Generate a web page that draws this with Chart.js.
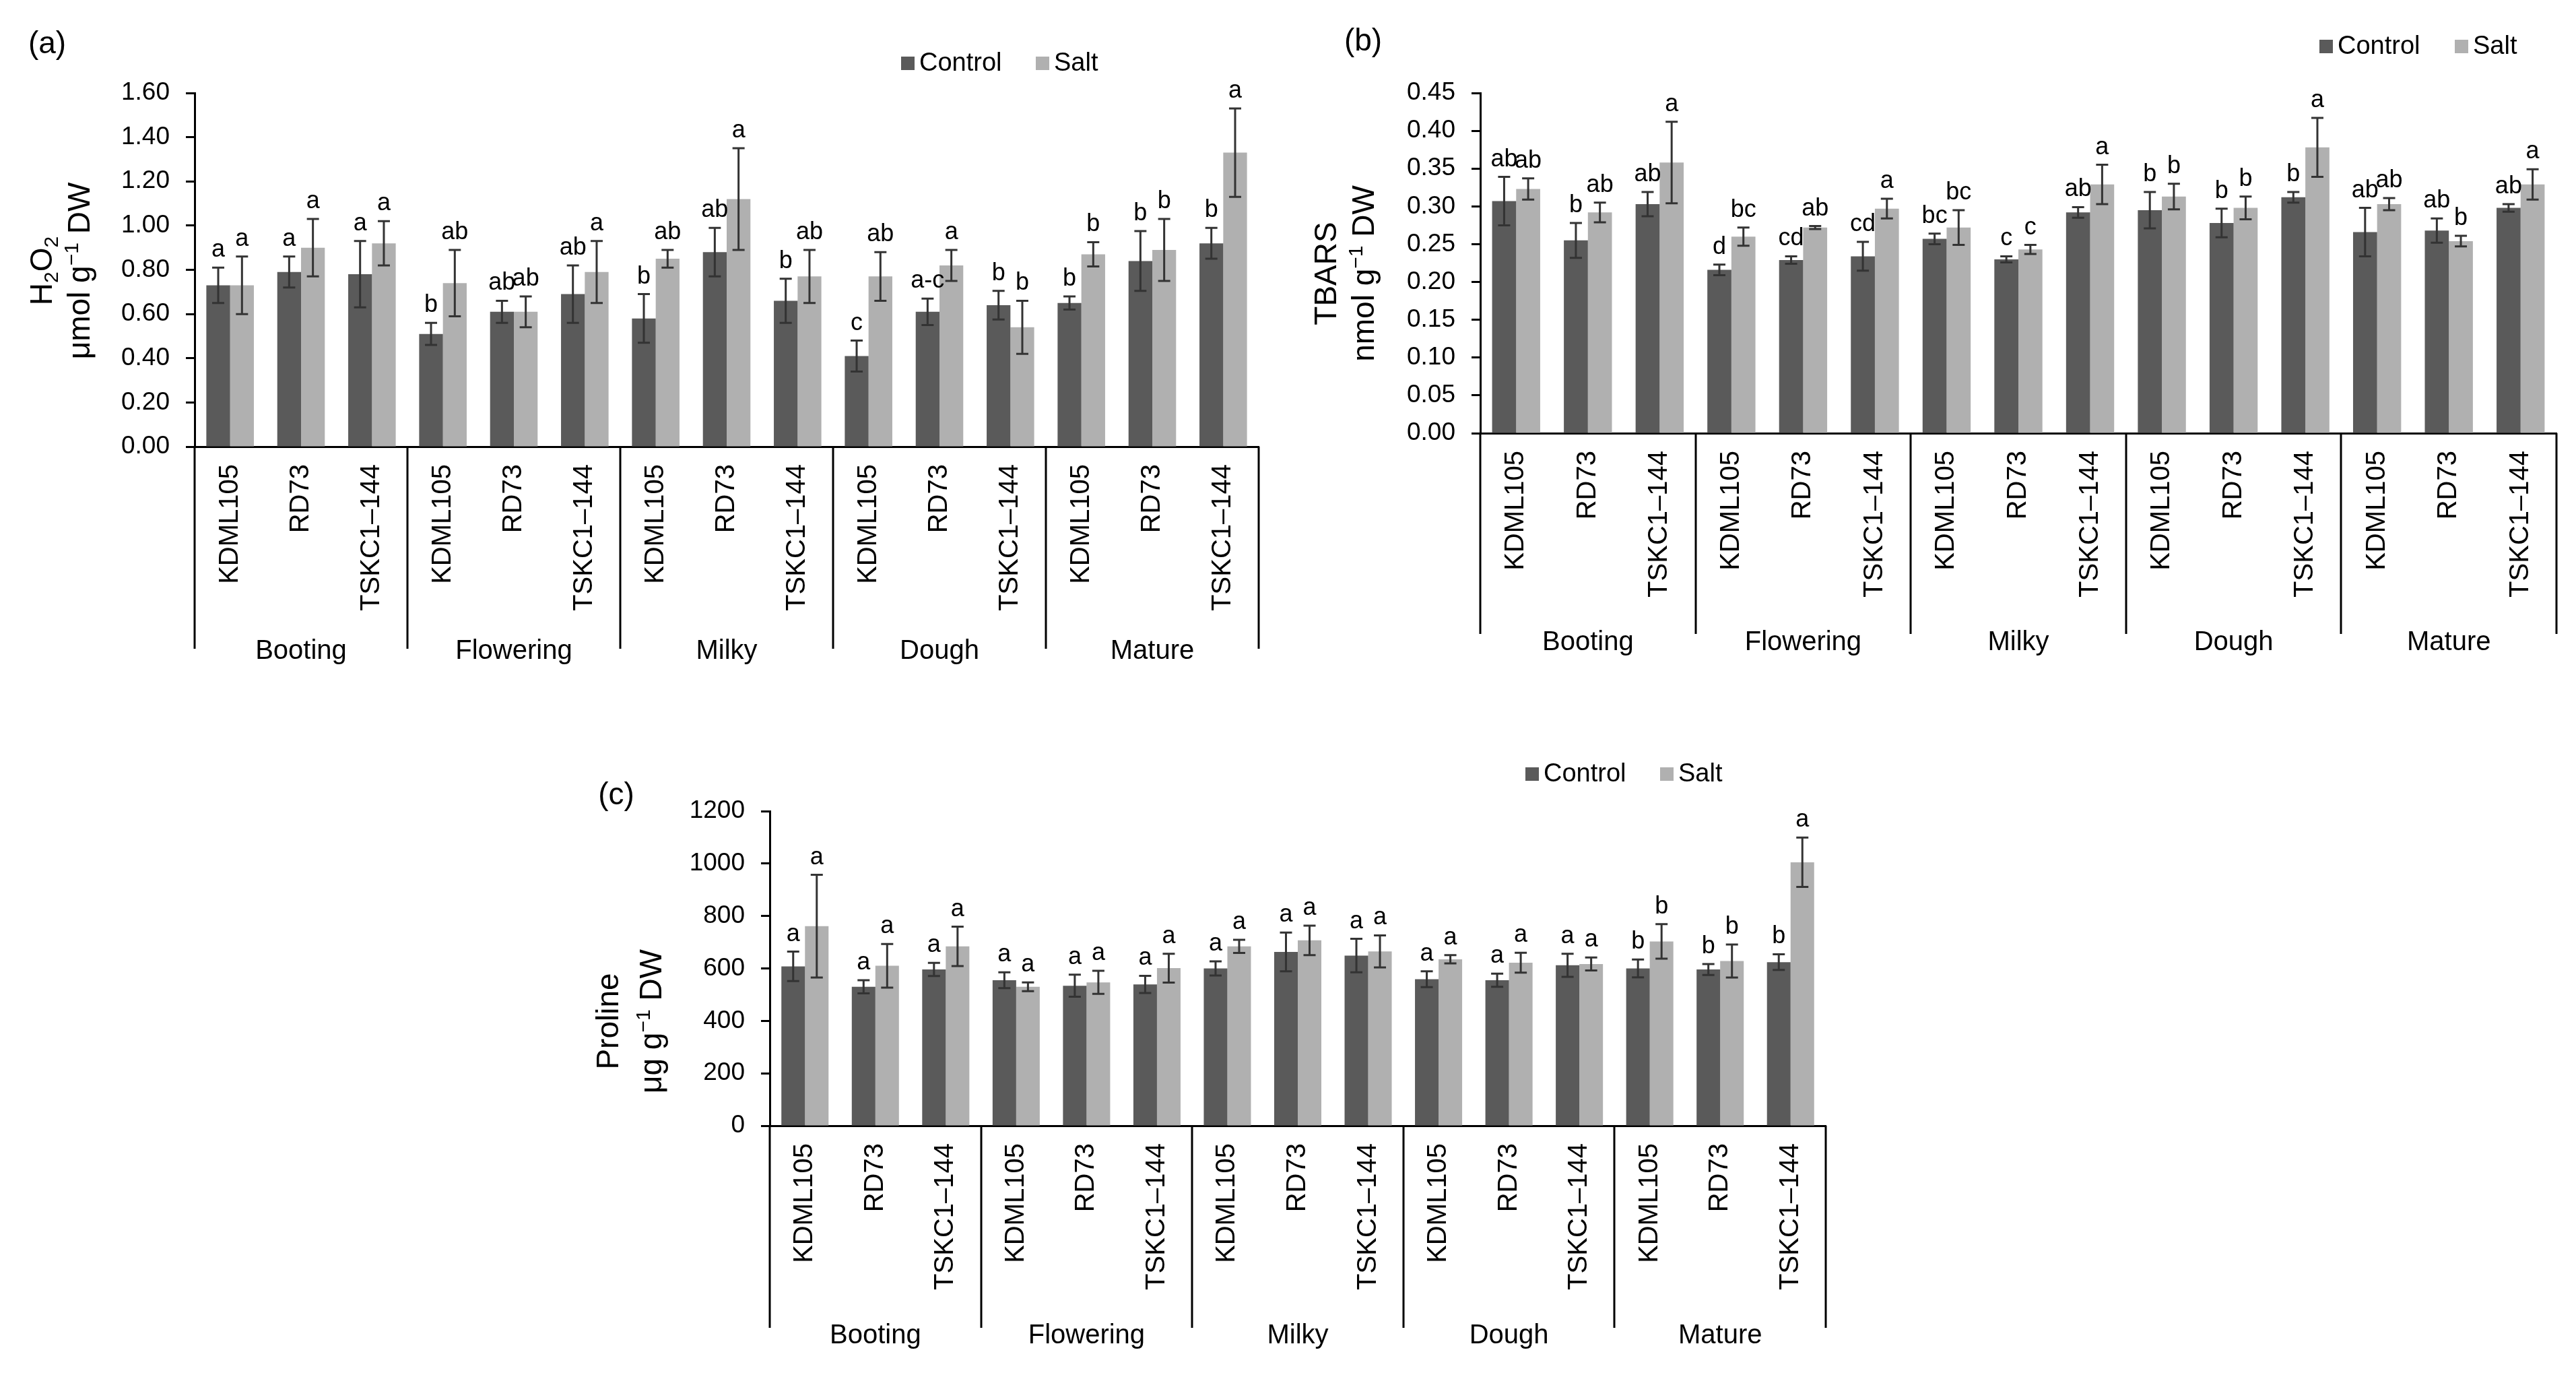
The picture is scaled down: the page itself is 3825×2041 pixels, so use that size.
<!DOCTYPE html>
<html>
<head>
<meta charset="utf-8">
<title>H2O2, TBARS and proline</title>
<script src="https://cdn.jsdelivr.net/npm/chart.js@4.4.1/dist/chart.umd.min.js"></script>
<style>
    html, body { margin: 0; padding: 0; background: #fff; }
    body { width: 3825px; height: 2041px; position: relative; overflow: hidden; }
    canvas { position: absolute; }
</style>
</head>
<body>
<canvas id="chartA" width="1920" height="1030" style="left:0px;top:0px"></canvas>
<canvas id="chartB" width="1915" height="1030" style="left:1910px;top:0px"></canvas>
<canvas id="chartC" width="1900" height="951" style="left:850px;top:1090px"></canvas>
<script>
// ---------- data ----------
const stages = ['Booting', 'Flowering', 'Milky', 'Dough', 'Mature'];
const cultivars = ['KDML105', 'RD73', 'TSKC1\u2013144'];
const categories = stages.flatMap(() => cultivars);

// (a) H2O2, umol g-1 DW
const h2o2Control    = [0.73, 0.79, 0.78, 0.51, 0.61, 0.69, 0.58, 0.88, 0.66, 0.41, 0.61, 0.64, 0.65, 0.84, 0.92];
const h2o2ControlErr = [0.08, 0.07, 0.15, 0.05, 0.05, 0.13, 0.11, 0.11, 0.10, 0.07, 0.06, 0.065, 0.03, 0.135, 0.07];
const h2o2Salt       = [0.73, 0.90, 0.92, 0.74, 0.61, 0.79, 0.85, 1.12, 0.77, 0.77, 0.82, 0.54, 0.87, 0.89, 1.33];
const h2o2SaltErr    = [0.13, 0.13, 0.10, 0.15, 0.07, 0.14, 0.04, 0.23, 0.12, 0.11, 0.07, 0.12, 0.055, 0.14, 0.20];
const h2o2ControlLetters = ['a', 'a', 'a', 'b', 'ab', 'ab', 'b', 'ab', 'b', 'c', 'a-c', 'b', 'b', 'b', 'b'];
const h2o2SaltLetters    = ['a', 'a', 'a', 'ab', 'ab', 'a', 'ab', 'a', 'ab', 'ab', 'a', 'b', 'b', 'b', 'a'];
const h2o2Ticks = [0, 0.2, 0.4, 0.6, 0.8, 1.0, 1.2, 1.4, 1.6];

// (b) TBARS, nmol g-1 DW
const tbarsControl    = [0.307, 0.255, 0.303, 0.216, 0.229, 0.234, 0.257, 0.230, 0.292, 0.295, 0.278, 0.312, 0.266, 0.268, 0.298];
const tbarsControlErr = [0.032, 0.023, 0.016, 0.007, 0.005, 0.019, 0.007, 0.004, 0.007, 0.024, 0.019, 0.007, 0.032, 0.016, 0.005];
const tbarsSalt       = [0.323, 0.292, 0.358, 0.260, 0.272, 0.297, 0.272, 0.243, 0.329, 0.313, 0.298, 0.378, 0.303, 0.254, 0.329];
const tbarsSaltErr    = [0.014, 0.013, 0.054, 0.012, 0.002, 0.013, 0.023, 0.006, 0.026, 0.017, 0.015, 0.039, 0.008, 0.007, 0.020];
const tbarsControlLetters = ['ab', 'b', 'ab', 'd', 'cd', 'cd', 'bc', 'c', 'ab', 'b', 'b', 'b', 'ab', 'ab', 'ab'];
const tbarsSaltLetters    = ['ab', 'ab', 'a', 'bc', 'ab', 'a', 'bc', 'c', 'a', 'b', 'b', 'a', 'ab', 'b', 'a'];
const tbarsTicks = [0, 0.05, 0.10, 0.15, 0.20, 0.25, 0.30, 0.35, 0.40, 0.45];

// (c) Proline, ug g-1 DW
const prolineControl    = [608, 530, 596, 555, 534, 539, 600, 663, 649, 559, 555, 612, 600, 596, 624];
const prolineControlErr = [56, 25, 25, 30, 42, 33, 27, 74, 64, 30, 25, 44, 34, 21, 30];
const prolineSalt       = [761, 610, 684, 530, 547, 601, 684, 707, 665, 635, 622, 617, 703, 628, 1005];
const prolineSaltErr    = [196, 83, 75, 17, 44, 55, 25, 56, 61, 16, 38, 25, 66, 63, 94];
const prolineControlLetters = ['a', 'a', 'a', 'a', 'a', 'a', 'a', 'a', 'a', 'a', 'a', 'a', 'b', 'b', 'b'];
const prolineSaltLetters    = ['a', 'a', 'a', 'a', 'a', 'a', 'a', 'a', 'a', 'a', 'a', 'a', 'b', 'b', 'a'];
const prolineTicks = [0, 200, 400, 600, 800, 1000, 1200];

// ---------- styles ----------
const FONT = "'Liberation Sans', Arial, 'DejaVu Sans', sans-serif";
const CONTROL_COLOR = '#5a5a5a';
const SALT_COLOR = '#b0b0b0';
const INK = '#000';

// Draws text with sub/superscript parts, centred on (cx, cy)
function drawRich(ctx, parts, cx, cy, size) {
    const fontFor = m => (m ? Math.round(size * 0.65) : size) + 'px ' + FONT;
    let total = 0;
    parts.forEach(([t, m]) => { ctx.font = fontFor(m); total += ctx.measureText(t).width; });
    let x = cx - total / 2;
    ctx.textAlign = 'left';
    ctx.textBaseline = 'alphabetic';
    parts.forEach(([t, m]) => {
        ctx.font = fontFor(m);
        const dy = m === 1 ? size * 0.2 : (m === 2 ? -size * 0.36 : 0);
        ctx.fillText(t, x, cy + size * 0.36 + dy);
        x += ctx.measureText(t).width;
    });
}

// Error bars, letters, group boxes, stage names, legend, titles
const annotatePlugin = {
    id: 'annotate',
    afterDraw(chart) {
        const o = chart.config.options.plugins.annotate;
        const { ctx, chartArea } = chart;
        const x = chart.scales.x, y = chart.scales.y;
        ctx.save();

        // error bars + letters
        chart.data.datasets.forEach((ds, di) => {
            const meta = chart.getDatasetMeta(di);
            meta.data.forEach((bar, i) => {
                const v = ds.data[i], e = ds.errors[i];
                const yt = y.getPixelForValue(v + e);
                const yb = y.getPixelForValue(v - e);
                ctx.strokeStyle = '#333';
                ctx.lineWidth = 3;
                ctx.beginPath();
                ctx.moveTo(bar.x, yt); ctx.lineTo(bar.x, yb);
                ctx.moveTo(bar.x - 9, yt); ctx.lineTo(bar.x + 9, yt);
                ctx.moveTo(bar.x - 9, yb); ctx.lineTo(bar.x + 9, yb);
                ctx.stroke();
                ctx.fillStyle = INK;
                ctx.font = '36px ' + FONT;
                ctx.textAlign = 'center';
                ctx.textBaseline = 'alphabetic';
                ctx.fillText(ds.letters[i], bar.x, yt - 16);
            });
        });

        // group separators and stage names
        const step = x.getPixelForValue(1) - x.getPixelForValue(0);
        ctx.strokeStyle = INK;
        ctx.lineWidth = 3;
        for (let g = 0; g <= stages.length; g++) {
            const px = Math.round(x.getPixelForValue(g * cultivars.length) - step / 2);
            ctx.beginPath();
            ctx.moveTo(px, chartArea.bottom);
            ctx.lineTo(px, chartArea.bottom + o.sepLength);
            ctx.stroke();
        }
        ctx.fillStyle = INK;
        ctx.font = '40px ' + FONT;
        ctx.textAlign = 'center';
        ctx.textBaseline = 'middle';
        stages.forEach((s, g) => {
            const c = x.getPixelForValue(g * cultivars.length + 1);
            ctx.fillText(s, c, chartArea.bottom + o.stageOffset);
        });

        // panel label
        ctx.font = '46px ' + FONT;
        ctx.fillText(o.panel, o.panelX, o.panelY);

        // legend
        ctx.font = '38px ' + FONT;
        ctx.textAlign = 'left';
        chart.data.datasets.forEach((ds, di) => {
            const lx = o.legendX[di];
            ctx.fillStyle = ds.backgroundColor;
            ctx.fillRect(lx, o.legendY - 10, 20, 20);
            ctx.fillStyle = INK;
            ctx.fillText(ds.label, lx + 27, o.legendY + 1);
        });

        // y title, two lines
        ctx.fillStyle = INK;
        o.title.forEach((parts, li) => {
            ctx.save();
            ctx.translate(o.titleX[li], o.titleY);
            ctx.rotate(-Math.PI / 2);
            drawRich(ctx, parts, 0, 0, 46);
            ctx.restore();
        });
        ctx.restore();
    }
};

function makeChart(id, cfg) {
    const canvas = document.getElementById(id);
    const W = canvas.width, H = canvas.height;
    const xHeight = 320;
    return new Chart(canvas.getContext('2d'), {
        type: 'bar',
        data: {
            labels: categories,
            datasets: [
                { label: 'Control', data: cfg.control, errors: cfg.controlErr, letters: cfg.controlLetters,
                  backgroundColor: CONTROL_COLOR, borderWidth: 0 },
                { label: 'Salt', data: cfg.salt, errors: cfg.saltErr, letters: cfg.saltLetters,
                  backgroundColor: SALT_COLOR, borderWidth: 0 }
            ]
        },
        options: {
            responsive: false,
            devicePixelRatio: 1,
            animation: false,
            layout: {
                padding: { left: 0, top: cfg.area.top, right: W - cfg.area.right, bottom: H - cfg.area.bottom - xHeight }
            },
            datasets: { bar: { categoryPercentage: 0.67, barPercentage: 1.0 } },
            scales: {
                x: {
                    grid: { display: false, drawTicks: false },
                    border: { display: true, color: INK, width: 3 },
                    ticks: {
                        autoSkip: false, minRotation: 90, maxRotation: 90, padding: 26,
                        color: INK, font: { family: FONT, size: 40 }
                    },
                    afterFit(scale) { scale.height = xHeight; }
                },
                y: {
                    min: cfg.ticks[0],
                    max: cfg.ticks[cfg.ticks.length - 1],
                    afterBuildTicks(scale) { scale.ticks = cfg.ticks.map(v => ({ value: v })); },
                    grid: { drawOnChartArea: false, drawTicks: true, tickLength: 13, tickWidth: 3, tickColor: INK },
                    border: { display: true, color: INK, width: 3 },
                    ticks: {
                        padding: 24, color: INK, font: { family: FONT, size: 37 },
                        callback: v => v.toFixed(cfg.decimals)
                    },
                    afterFit(scale) { scale.width = cfg.area.left; }
                }
            },
            plugins: {
                legend: { display: false },
                tooltip: { enabled: false },
                annotate: cfg.annot
            }
        },
        plugins: [annotatePlugin]
    });
}

makeChart('chartA', {
    control: h2o2Control, controlErr: h2o2ControlErr, controlLetters: h2o2ControlLetters,
    salt: h2o2Salt, saltErr: h2o2SaltErr, saltLetters: h2o2SaltLetters,
    ticks: h2o2Ticks, decimals: 2,
    area: { left: 289, top: 138, right: 1869, bottom: 663 },
    annot: {
        panel: '(a)', panelX: 70, panelY: 66,
        legendX: [1338, 1538], legendY: 94,
        title: [[['H', 0], ['2', 1], ['O', 0], ['2', 1]], [['\u03bcmol g', 0], ['\u22121', 2], [' DW', 0]]],
        titleX: [60, 116], titleY: 402,
        sepLength: 300, stageOffset: 304
    }
});

makeChart('chartB', {
    control: tbarsControl, controlErr: tbarsControlErr, controlLetters: tbarsControlLetters,
    salt: tbarsSalt, saltErr: tbarsSaltErr, saltLetters: tbarsSaltLetters,
    ticks: tbarsTicks, decimals: 2,
    area: { left: 288, top: 138, right: 1886, bottom: 643 },
    annot: {
        panel: '(b)', panelX: 114, panelY: 62,
        legendX: [1534, 1735], legendY: 69,
        title: [[['TBARS', 0]], [['nmol g', 0], ['\u22121', 2], [' DW', 0]]],
        titleX: [57, 113], titleY: 406,
        sepLength: 298, stageOffset: 311
    }
});

makeChart('chartC', {
    control: prolineControl, controlErr: prolineControlErr, controlLetters: prolineControlLetters,
    salt: prolineSalt, saltErr: prolineSaltErr, saltLetters: prolineSaltLetters,
    ticks: prolineTicks, decimals: 0,
    area: { left: 293, top: 114, right: 1861, bottom: 581 },
    annot: {
        panel: '(c)', panelX: 65, panelY: 91,
        legendX: [1415, 1615], legendY: 59,
        title: [[['Proline', 0]], [['\u03bcg g', 0], ['\u22121', 2], [' DW', 0]]],
        titleX: [51, 115], titleY: 426,
        sepLength: 300, stageOffset: 312
    }
});
</script>
</body>
</html>
